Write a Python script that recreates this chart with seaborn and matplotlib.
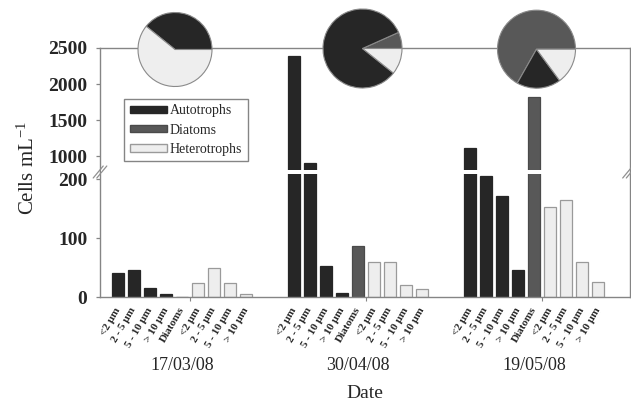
import numpy as np
import pandas as pd
import seaborn as sns
import matplotlib.pyplot as plt
import matplotlib.transforms as mtransforms
from matplotlib.patches import Patch, Rectangle
from matplotlib.lines import Line2D
from matplotlib.colors import to_hex

### Datos
dates = ["17/03/08", "30/04/08", "19/05/08"]
size_classes = ["<2 µm", "2 - 5 µm", "5 - 10 µm", "> 10 µm"]
autotrophs = [[40, 45, 15, 5], [2390, 900, 53, 6], [1115, 205, 172, 45]]
diatoms = [0, 87, 1825]
heterotrophs = [[23, 49, 23, 5], [60, 60, 20, 13], [152, 164, 60, 25]]

# Composicion de las tortas (%)
pie_diatoms = [0, 6.7, 66.8]
pie_autotrophs = [39.2, 82.6, 18.3]
pie_heterotrophs = [60.8, 10.7, 14.9]

## Colores
colores = {"Autotrophs": "#262626", "Diatoms": "#585858", "Heterotrophs": "#eeeeee"}
bordes = {"Autotrophs": "#262626", "Diatoms": "#4a4a4a", "Heterotrophs": "#9a9a9a"}

## Dataframe largo, 11 posiciones por fecha (9 barras + 2 vacias)
filas = []
etiquetas = []
for g, fecha in enumerate(dates):
    base = g * 11
    for k, s in enumerate(size_classes):
        filas.append({"Fecha": fecha, "Tipo": "Autotrophs", "Valor": autotrophs[g][k], "pos": base + k})
        etiquetas.append((base + k, s))
    filas.append({"Fecha": fecha, "Tipo": "Diatoms", "Valor": diatoms[g], "pos": base + 4})
    etiquetas.append((base + 4, "Diatoms"))
    for k, s in enumerate(size_classes):
        filas.append({"Fecha": fecha, "Tipo": "Heterotrophs", "Valor": heterotrophs[g][k], "pos": base + 5 + k})
        etiquetas.append((base + 5 + k, s))
df = pd.DataFrame(filas)

sns.set_style("white")
plt.rcParams['font.family'] = ['Liberation Serif', 'DejaVu Serif']
plt.rcParams['mathtext.fontset'] = 'custom'
plt.rcParams['mathtext.rm'] = 'Liberation Serif'
plt.rcParams['mathtext.it'] = 'Liberation Serif:italic'

W, H = 631, 405
fig = plt.figure(figsize=(W / 100, H / 100), dpi=100)
ax_top = fig.add_axes([100 / W, 1 - 171 / H, 529.5 / W, (171 - 48) / H])
ax_bot = fig.add_axes([100 / W, 1 - 297 / H, 529.5 / W, (297 - 171) / H])

gris = "#858585"
for ax in (ax_top, ax_bot):
    sns.barplot(data=df, x="pos", y="Valor", hue="Tipo", palette=colores,
                native_scale=True, width=0.8, saturation=1, errorbar=None,
                legend=False, ax=ax)
    inv = {to_hex(v): k for k, v in colores.items()}
    for p in ax.patches:
        tipo = inv.get(to_hex(p.get_facecolor()))
        if tipo:
            p.set_edgecolor(bordes[tipo])
            p.set_linewidth(0.9)
    ax.set_xlim(-1.125, 31.97)
    ax.set_xlabel("")
    ax.set_ylabel("")
    for sp in ax.spines.values():
        sp.set_color(gris)
        sp.set_linewidth(1.0)
    ax.tick_params(axis="y", direction="out", length=3, width=0.9, color=gris,
                   left=True, labelsize=14, pad=6)

# Eje superior (escala cortada)
ax_top.set_ylim(791.7, 2500)
ax_top.set_yticks([1000, 1500, 2000, 2500])
for lbl in ax_top.get_yticklabels():
    lbl.set_fontweight("bold")
ax_top.spines["bottom"].set_visible(False)
ax_top.set_xticks([])
ax_top.set_xticks([], minor=True)

# Eje inferior
ax_bot.set_ylim(0, 213.6)
ax_bot.set_yticks([0, 100, 200])
for lbl in ax_bot.get_yticklabels():
    lbl.set_fontweight("bold")
ax_bot.spines["top"].set_visible(False)
ax_bot.set_xticks([4.5, 15.5, 26.5])
ax_bot.set_xticklabels([])
ax_bot.tick_params(axis="x", which="major", direction="out", length=3, color=gris, bottom=True)
ax_bot.set_xticks([p for p, _ in etiquetas], minor=True)
ax_bot.set_xticklabels([s for _, s in etiquetas], minor=True, fontsize=8, fontweight="bold")
ax_bot.tick_params(axis="x", which="minor", length=0, pad=8)
plt.setp(ax_bot.get_xticklabels(minor=True), rotation=60, ha="right", va="center",
         rotation_mode="anchor")

# Fechas
trans = mtransforms.blended_transform_factory(ax_bot.transData, fig.transFigure)
for g, fecha in enumerate(dates):
    ax_bot.text(g * 11 + 4, 1 - 366 / H, fecha, transform=trans, ha="center",
                va="center", fontsize=13)

fig.text(365 / W, 1 - 394 / H, "Date", ha="center", va="center", fontsize=14)
fig.text(28 / W, 1 - 168 / H, "Cells mL$^{-1}$", rotation=90, ha="center",
         va="center", fontsize=15)

# Franja blanca del corte en las barras
fig.add_artist(Rectangle((101 / W, 1 - 173.5 / H), 528 / W, 4 / H,
                         transform=fig.transFigure, facecolor="white",
                         edgecolor="none", zorder=3))
# Marcas de corte "//"
for x0 in (100, 629.5):
    for dx in (-1.8, 1.8):
        fig.add_artist(Line2D([(x0 - 5 + dx) / W, (x0 + 5 + dx) / W],
                              [1 - 178 / H, 1 - 166 / H], transform=fig.transFigure,
                              color="#909090", linewidth=0.9, zorder=4))

# Leyenda
handles = [Patch(facecolor=colores[t], edgecolor=bordes[t], label=t)
           for t in ["Autotrophs", "Diatoms", "Heterotrophs"]]
ax_top.legend(handles=handles, loc="upper left", bbox_to_anchor=(124 / W, 1 - 98.7 / H),
              bbox_transform=fig.transFigure, borderaxespad=0, fontsize=10,
              handlelength=2.7, handleheight=0.45, handletextpad=0.2,
              labelspacing=0.45, frameon=True, fancybox=False, edgecolor=gris,
              framealpha=1, borderpad=0.4)

# Tortas de composicion
centros = [(175, 49.5, 37), (362.5, 48.5, 39.5), (536.5, 49.2, 39)]
for g, (cx, cy, r) in enumerate(centros):
    pax = fig.add_axes([(cx - r * 1.02) / W, 1 - (cy + r * 1.02) / H,
                        2.04 * r / W, 2.04 * r / H], zorder=5)
    pax.pie([pie_diatoms[g], pie_autotrophs[g], pie_heterotrophs[g]],
            colors=[colores["Diatoms"], colores["Autotrophs"], colores["Heterotrophs"]],
            startangle=0, counterclock=True,
            wedgeprops=dict(edgecolor="#8a8a8a", linewidth=0.8))
    pax.set_xlim(-1.02, 1.02)
    pax.set_ylim(-1.02, 1.02)
    pax.set_aspect("equal")
    pax.axis("off")

plt.savefig("out.png", dpi=100)
